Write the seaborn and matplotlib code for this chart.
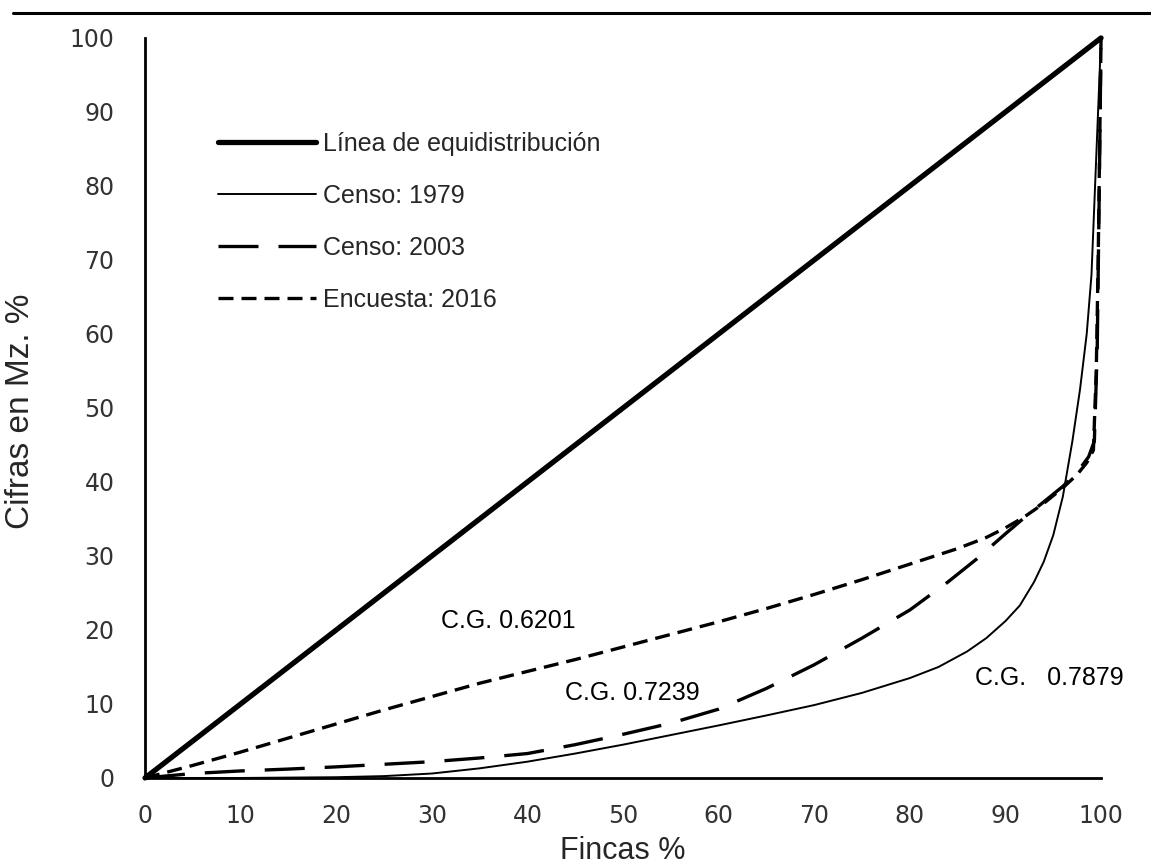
import matplotlib
matplotlib.use("Agg")
import matplotlib.pyplot as plt
import seaborn as sns
from matplotlib.lines import Line2D

sns.set_style("white")
plt.rcParams['font.family'] = ['Liberation Sans', 'DejaVu Sans']

# Curvas de Lorenz (Fincas % vs Cifras en Mz. %)
eq_x = [0, 100]
eq_y = [0, 100]

x_1979 = [0, 10, 20, 25, 30, 35, 40, 45, 50, 55, 60, 65, 70, 75, 80, 83, 86, 88,
          90, 91.5, 93, 94, 95, 96, 97, 97.8, 98.5, 99, 99.5, 100]
y_1979 = [0, 0, 0.1, 0.25, 0.6, 1.3, 2.2, 3.3, 4.5, 5.8, 7.1, 8.45, 9.85, 11.5, 13.5, 15.0,
          17.1, 18.9, 21.2, 23.3, 26.5, 29.2, 32.8, 38.0, 45.5, 52.5, 60.0, 68.0, 84.0, 100]

x_2003 = [0, 5, 10, 15, 20, 25, 30, 35, 40, 45, 50, 55, 60, 65, 70, 75, 80, 84,
          87, 90, 92, 94, 96, 97.5, 98.7, 99.3, 99.6, 99.8, 100]
y_2003 = [0, 0.6, 0.95, 1.2, 1.5, 1.85, 2.2, 2.7, 3.3, 4.5, 5.9, 7.4, 9.3, 12.1, 15.3,
          18.9, 22.7, 26.5, 29.6, 33.0, 35.2, 37.3, 39.4, 41.3, 43.4, 45.5, 58.0, 78.0, 100]

x_2016 = [0, 5, 10, 15, 20, 25, 30, 35, 40, 45, 50, 55, 60, 65, 70, 75, 80, 85,
          88, 90, 92, 94, 96, 97.5, 98.5, 99.2, 99.5, 99.7, 99.85, 100]
y_2016 = [0, 1.7, 3.5, 5.4, 7.3, 9.2, 11.0, 12.8, 14.4, 16.0, 17.7, 19.4, 21.1, 22.9,
          24.8, 26.8, 28.9, 31.0, 32.5, 33.8, 35.3, 37.1, 39.2, 41.0, 42.6, 44.3, 55.0,
          70.0, 85.0, 100]

labels = ['Línea de equidistribución', 'Censo: 1979', 'Censo: 2003', 'Encuesta: 2016']
ticks = list(range(0, 101, 10))

notes = ['C.G. 0.6201', 'C.G. 0.7239', 'C.G.   0.7879']
notes_x = [31.0, 43.9, 86.8]
notes_y = [21.2, 11.5, 13.5]

fig = plt.figure(figsize=(11.51, 8.67), dpi=100)
ax = fig.add_axes([0.126, 0.1027, 0.8306, 0.8535])

sns.lineplot(x=eq_x, y=eq_y, ax=ax, color='black', lw=3.8, label=labels[0],
             sort=False, estimator=None, clip_on=False)
sns.lineplot(x=x_1979, y=y_1979, ax=ax, color='black', lw=1.4, label=labels[1],
             sort=False, estimator=None, clip_on=False)
sns.lineplot(x=x_2003, y=y_2003, ax=ax, color='black', lw=2.4, label=labels[2],
             sort=False, estimator=None, clip_on=False, linestyle=(0, (12, 6)))
sns.lineplot(x=x_2016, y=y_2016, ax=ax, color='black', lw=2.4, label=labels[3],
             sort=False, estimator=None, clip_on=False, linestyle=(0, (4.5, 2.4)))

for s, nx, ny in zip(notes, notes_x, notes_y):
    ax.text(nx, ny, s, fontsize=18, ha='left', va='center', color='black')

ax.set_xlim(0, 100)
ax.set_ylim(0, 100)
ax.set_xticks(ticks)
ax.set_yticks(ticks)
ax.set_xticklabels([str(t) for t in ticks], fontfamily='DejaVu Sans', fontsize=17, color='#333333')
ax.set_yticklabels([str(t) for t in ticks], fontfamily='DejaVu Sans', fontsize=17, color='#333333')
ax.tick_params(axis='x', length=0, pad=19)
ax.tick_params(axis='y', length=0, pad=22)

sns.despine(ax=ax)
for sp in ['left', 'bottom']:
    ax.spines[sp].set_color('black')
    ax.spines[sp].set_linewidth(2)

ax.set_xlabel('Fincas %', fontsize=22, color='#262626')
ax.set_ylabel('Cifras en Mz. %', fontsize=24, color='#262626')
ax.xaxis.set_label_coords(0.5, -0.078)
ax.yaxis.set_label_coords(-0.114, 0.495)

ax.legend(loc='upper left', bbox_to_anchor=(0.0764, 0.873), frameon=False,
          fontsize=18, handlelength=3.9, handletextpad=0.3, labelspacing=1.12,
          borderpad=0, borderaxespad=0)

# linea de encabezado de pagina
fig.add_artist(Line2D([0.011, 1.0], [0.985, 0.985], color='black', lw=2.2,
                      transform=fig.transFigure))

fig.savefig('out.png', dpi=100)
